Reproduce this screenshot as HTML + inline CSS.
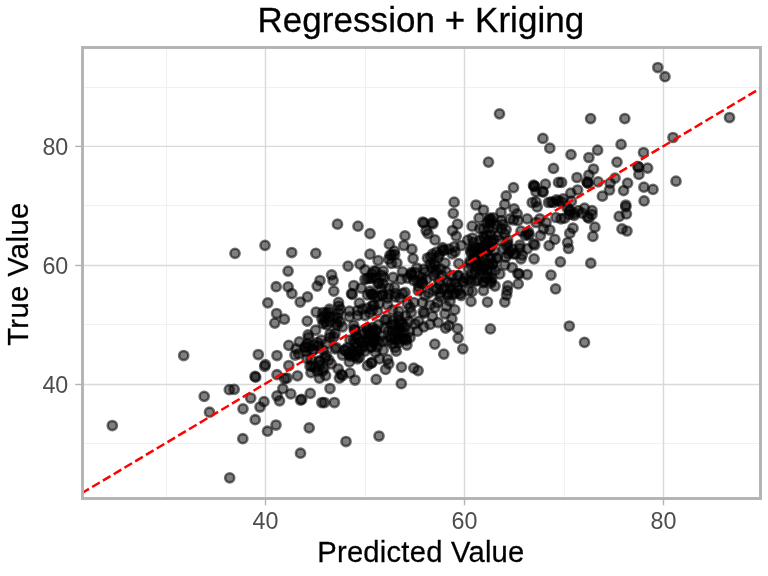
<!DOCTYPE html>
<html><head><meta charset="utf-8"><title>Regression + Kriging</title>
<style>html,body{margin:0;padding:0;background:#fff;}svg{display:block;will-change:transform;opacity:0.9999;}text{font-family:"Liberation Sans",sans-serif;}</style>
</head><body>
<svg width="768" height="576" viewBox="0 0 768 576">
<rect x="0" y="0" width="768" height="576" fill="#ffffff"/>
<defs><clipPath id="c"><rect x="82.5" y="47.5" width="678.0" height="451.0"/></clipPath></defs>
<g stroke="#f0f0f0" stroke-width="1">
<line x1="166.5" y1="47.5" x2="166.5" y2="498.5"/>
<line x1="365.5" y1="47.5" x2="365.5" y2="498.5"/>
<line x1="564.5" y1="47.5" x2="564.5" y2="498.5"/>
<line x1="82.5" y1="443.5" x2="760.5" y2="443.5"/>
<line x1="82.5" y1="324.5" x2="760.5" y2="324.5"/>
<line x1="82.5" y1="205.5" x2="760.5" y2="205.5"/>
<line x1="82.5" y1="87.5" x2="760.5" y2="87.5"/>
</g>
<g stroke="#d9d9d9" stroke-width="1.4">
<line x1="265.5" y1="47.5" x2="265.5" y2="498.5"/>
<line x1="464.5" y1="47.5" x2="464.5" y2="498.5"/>
<line x1="663.5" y1="47.5" x2="663.5" y2="498.5"/>
<line x1="82.5" y1="384.5" x2="760.5" y2="384.5"/>
<line x1="82.5" y1="265.5" x2="760.5" y2="265.5"/>
<line x1="82.5" y1="146.4" x2="760.5" y2="146.4"/>
</g>
<g clip-path="url(#c)" fill="#000" fill-opacity="0.5" stroke="#000" stroke-opacity="0.55" stroke-width="2.55">
<circle cx="112.3" cy="425.5" r="4.6"/>
<circle cx="183.7" cy="355.5" r="4.6"/>
<circle cx="204.2" cy="396.3" r="4.6"/>
<circle cx="209.5" cy="412.2" r="4.6"/>
<circle cx="229.3" cy="389.7" r="4.6"/>
<circle cx="234.2" cy="389.3" r="4.6"/>
<circle cx="243.0" cy="408.8" r="4.6"/>
<circle cx="250.7" cy="398.0" r="4.6"/>
<circle cx="255.0" cy="376.3" r="4.6"/>
<circle cx="255.7" cy="377.2" r="4.6"/>
<circle cx="255.2" cy="419.7" r="4.6"/>
<circle cx="258.3" cy="354.5" r="4.6"/>
<circle cx="260.0" cy="407.0" r="4.6"/>
<circle cx="264.0" cy="401.7" r="4.6"/>
<circle cx="264.7" cy="366.3" r="4.6"/>
<circle cx="265.3" cy="364.7" r="4.6"/>
<circle cx="276.0" cy="425.0" r="4.6"/>
<circle cx="277.0" cy="355.5" r="4.6"/>
<circle cx="277.0" cy="374.7" r="4.6"/>
<circle cx="277.0" cy="395.8" r="4.6"/>
<circle cx="279.5" cy="400.8" r="4.6"/>
<circle cx="282.8" cy="388.7" r="4.6"/>
<circle cx="284.7" cy="378.7" r="4.6"/>
<circle cx="287.0" cy="378.0" r="4.6"/>
<circle cx="288.8" cy="365.5" r="4.6"/>
<circle cx="290.8" cy="393.8" r="4.6"/>
<circle cx="297.5" cy="375.8" r="4.6"/>
<circle cx="300.5" cy="400.0" r="4.6"/>
<circle cx="301.7" cy="399.3" r="4.6"/>
<circle cx="310.3" cy="393.3" r="4.6"/>
<circle cx="309.2" cy="427.8" r="4.6"/>
<circle cx="299.4" cy="341.9" r="4.6"/>
<circle cx="296.2" cy="348.8" r="4.6"/>
<circle cx="295.0" cy="355.0" r="4.6"/>
<circle cx="298.8" cy="353.8" r="4.6"/>
<circle cx="308.8" cy="337.5" r="4.6"/>
<circle cx="330.0" cy="388.5" r="4.6"/>
<circle cx="321.9" cy="402.5" r="4.6"/>
<circle cx="324.4" cy="402.5" r="4.6"/>
<circle cx="334.4" cy="402.5" r="4.6"/>
<circle cx="319.4" cy="378.1" r="4.6"/>
<circle cx="325.6" cy="375.6" r="4.6"/>
<circle cx="338.1" cy="368.8" r="4.6"/>
<circle cx="341.2" cy="374.4" r="4.6"/>
<circle cx="342.5" cy="375.6" r="4.6"/>
<circle cx="339.4" cy="378.1" r="4.6"/>
<circle cx="350.0" cy="373.1" r="4.6"/>
<circle cx="355.0" cy="380.0" r="4.6"/>
<circle cx="376.2" cy="379.4" r="4.6"/>
<circle cx="367.5" cy="365.6" r="4.6"/>
<circle cx="371.2" cy="363.1" r="4.6"/>
<circle cx="349.4" cy="361.9" r="4.6"/>
<circle cx="357.5" cy="358.8" r="4.6"/>
<circle cx="326.2" cy="355.6" r="4.6"/>
<circle cx="311.2" cy="360.0" r="4.6"/>
<circle cx="315.0" cy="367.5" r="4.6"/>
<circle cx="320.0" cy="361.2" r="4.6"/>
<circle cx="323.8" cy="368.8" r="4.6"/>
<circle cx="328.8" cy="360.0" r="4.6"/>
<circle cx="331.2" cy="363.8" r="4.6"/>
<circle cx="317.5" cy="371.2" r="4.6"/>
<circle cx="322.5" cy="371.2" r="4.6"/>
<circle cx="310.0" cy="366.2" r="4.6"/>
<circle cx="313.1" cy="350.0" r="4.6"/>
<circle cx="317.5" cy="342.5" r="4.6"/>
<circle cx="321.2" cy="340.0" r="4.6"/>
<circle cx="313.8" cy="345.0" r="4.6"/>
<circle cx="308.8" cy="347.5" r="4.6"/>
<circle cx="305.0" cy="346.9" r="4.6"/>
<circle cx="345.0" cy="350.0" r="4.6"/>
<circle cx="348.8" cy="353.8" r="4.6"/>
<circle cx="352.5" cy="351.2" r="4.6"/>
<circle cx="350.0" cy="356.2" r="4.6"/>
<circle cx="355.0" cy="355.0" r="4.6"/>
<circle cx="347.5" cy="347.5" r="4.6"/>
<circle cx="342.5" cy="355.0" r="4.6"/>
<circle cx="351.2" cy="353.8" r="4.6"/>
<circle cx="335.0" cy="348.8" r="4.6"/>
<circle cx="336.2" cy="347.5" r="4.6"/>
<circle cx="361.2" cy="348.8" r="4.6"/>
<circle cx="365.0" cy="351.2" r="4.6"/>
<circle cx="367.5" cy="338.8" r="4.6"/>
<circle cx="372.5" cy="341.2" r="4.6"/>
<circle cx="357.5" cy="338.8" r="4.6"/>
<circle cx="362.5" cy="342.5" r="4.6"/>
<circle cx="330.0" cy="337.5" r="4.6"/>
<circle cx="333.8" cy="336.9" r="4.6"/>
<circle cx="355.0" cy="342.5" r="4.6"/>
<circle cx="350.0" cy="340.0" r="4.6"/>
<circle cx="370.0" cy="347.5" r="4.6"/>
<circle cx="373.8" cy="337.5" r="4.6"/>
<circle cx="288.1" cy="271.1" r="4.6"/>
<circle cx="288.1" cy="286.8" r="4.6"/>
<circle cx="291.9" cy="293.6" r="4.6"/>
<circle cx="307.5" cy="296.8" r="4.6"/>
<circle cx="300.2" cy="302.0" r="4.6"/>
<circle cx="320.0" cy="280.5" r="4.6"/>
<circle cx="317.2" cy="286.1" r="4.6"/>
<circle cx="331.6" cy="274.9" r="4.6"/>
<circle cx="333.1" cy="280.5" r="4.6"/>
<circle cx="333.8" cy="291.1" r="4.6"/>
<circle cx="348.1" cy="266.1" r="4.6"/>
<circle cx="316.2" cy="312.0" r="4.6"/>
<circle cx="307.2" cy="321.1" r="4.6"/>
<circle cx="284.4" cy="319.2" r="4.6"/>
<circle cx="315.6" cy="330.2" r="4.6"/>
<circle cx="308.1" cy="334.9" r="4.6"/>
<circle cx="329.4" cy="309.2" r="4.6"/>
<circle cx="326.2" cy="313.0" r="4.6"/>
<circle cx="323.8" cy="316.8" r="4.6"/>
<circle cx="325.0" cy="321.8" r="4.6"/>
<circle cx="326.9" cy="324.9" r="4.6"/>
<circle cx="338.5" cy="302.4" r="4.6"/>
<circle cx="338.8" cy="306.1" r="4.6"/>
<circle cx="338.8" cy="313.0" r="4.6"/>
<circle cx="337.5" cy="318.0" r="4.6"/>
<circle cx="340.0" cy="321.8" r="4.6"/>
<circle cx="342.5" cy="326.8" r="4.6"/>
<circle cx="336.2" cy="323.0" r="4.6"/>
<circle cx="349.4" cy="311.1" r="4.6"/>
<circle cx="349.4" cy="316.8" r="4.6"/>
<circle cx="351.5" cy="293.6" r="4.6"/>
<circle cx="352.2" cy="294.4" r="4.6"/>
<circle cx="353.8" cy="285.5" r="4.6"/>
<circle cx="359.4" cy="303.0" r="4.6"/>
<circle cx="365.0" cy="269.9" r="4.6"/>
<circle cx="360.0" cy="264.2" r="4.6"/>
<circle cx="373.8" cy="271.1" r="4.6"/>
<circle cx="367.5" cy="278.6" r="4.6"/>
<circle cx="365.0" cy="279.2" r="4.6"/>
<circle cx="370.0" cy="278.0" r="4.6"/>
<circle cx="367.5" cy="294.9" r="4.6"/>
<circle cx="371.2" cy="294.2" r="4.6"/>
<circle cx="361.2" cy="288.0" r="4.6"/>
<circle cx="357.5" cy="310.5" r="4.6"/>
<circle cx="362.5" cy="309.2" r="4.6"/>
<circle cx="367.5" cy="308.0" r="4.6"/>
<circle cx="372.5" cy="305.5" r="4.6"/>
<circle cx="357.5" cy="315.5" r="4.6"/>
<circle cx="365.0" cy="315.5" r="4.6"/>
<circle cx="370.0" cy="313.0" r="4.6"/>
<circle cx="353.8" cy="325.5" r="4.6"/>
<circle cx="355.0" cy="330.5" r="4.6"/>
<circle cx="367.5" cy="328.0" r="4.6"/>
<circle cx="372.5" cy="330.5" r="4.6"/>
<circle cx="370.0" cy="333.0" r="4.6"/>
<circle cx="330.0" cy="334.2" r="4.6"/>
<circle cx="335.0" cy="333.6" r="4.6"/>
<circle cx="235.0" cy="253.3" r="4.6"/>
<circle cx="265.0" cy="245.3" r="4.6"/>
<circle cx="291.7" cy="252.5" r="4.6"/>
<circle cx="315.8" cy="253.3" r="4.6"/>
<circle cx="337.5" cy="224.2" r="4.6"/>
<circle cx="276.2" cy="286.7" r="4.6"/>
<circle cx="267.8" cy="302.8" r="4.6"/>
<circle cx="276.6" cy="313.5" r="4.6"/>
<circle cx="274.8" cy="323.1" r="4.6"/>
<circle cx="305.4" cy="347.5" r="4.6"/>
<circle cx="434.8" cy="344.1" r="4.6"/>
<circle cx="443.8" cy="354.1" r="4.6"/>
<circle cx="462.8" cy="348.8" r="4.6"/>
<circle cx="458.1" cy="338.1" r="4.6"/>
<circle cx="457.5" cy="328.5" r="4.6"/>
<circle cx="454.8" cy="309.8" r="4.6"/>
<circle cx="451.9" cy="318.8" r="4.6"/>
<circle cx="445.0" cy="313.8" r="4.6"/>
<circle cx="446.2" cy="306.2" r="4.6"/>
<circle cx="445.6" cy="328.1" r="4.6"/>
<circle cx="448.8" cy="325.6" r="4.6"/>
<circle cx="438.1" cy="322.5" r="4.6"/>
<circle cx="430.0" cy="324.4" r="4.6"/>
<circle cx="423.8" cy="326.9" r="4.6"/>
<circle cx="417.5" cy="331.2" r="4.6"/>
<circle cx="415.0" cy="323.8" r="4.6"/>
<circle cx="418.8" cy="321.2" r="4.6"/>
<circle cx="423.1" cy="311.9" r="4.6"/>
<circle cx="424.4" cy="313.1" r="4.6"/>
<circle cx="432.5" cy="316.2" r="4.6"/>
<circle cx="435.0" cy="307.5" r="4.6"/>
<circle cx="430.0" cy="305.0" r="4.6"/>
<circle cx="410.0" cy="337.5" r="4.6"/>
<circle cx="406.9" cy="345.0" r="4.6"/>
<circle cx="403.8" cy="338.8" r="4.6"/>
<circle cx="396.2" cy="351.2" r="4.6"/>
<circle cx="395.0" cy="347.5" r="4.6"/>
<circle cx="401.5" cy="367.1" r="4.6"/>
<circle cx="413.8" cy="368.1" r="4.6"/>
<circle cx="418.1" cy="370.6" r="4.6"/>
<circle cx="387.5" cy="359.4" r="4.6"/>
<circle cx="388.8" cy="363.8" r="4.6"/>
<circle cx="385.6" cy="369.4" r="4.6"/>
<circle cx="375.6" cy="352.5" r="4.6"/>
<circle cx="379.4" cy="358.8" r="4.6"/>
<circle cx="371.9" cy="362.5" r="4.6"/>
<circle cx="383.1" cy="350.0" r="4.6"/>
<circle cx="385.0" cy="320.0" r="4.6"/>
<circle cx="398.8" cy="320.0" r="4.6"/>
<circle cx="402.5" cy="323.8" r="4.6"/>
<circle cx="395.0" cy="325.0" r="4.6"/>
<circle cx="400.0" cy="328.8" r="4.6"/>
<circle cx="392.5" cy="331.2" r="4.6"/>
<circle cx="397.5" cy="333.8" r="4.6"/>
<circle cx="403.8" cy="332.5" r="4.6"/>
<circle cx="390.0" cy="336.2" r="4.6"/>
<circle cx="395.0" cy="338.8" r="4.6"/>
<circle cx="401.2" cy="338.8" r="4.6"/>
<circle cx="387.5" cy="341.2" r="4.6"/>
<circle cx="406.2" cy="340.0" r="4.6"/>
<circle cx="382.5" cy="341.2" r="4.6"/>
<circle cx="398.8" cy="342.5" r="4.6"/>
<circle cx="392.5" cy="343.8" r="4.6"/>
<circle cx="372.5" cy="327.5" r="4.6"/>
<circle cx="376.2" cy="331.2" r="4.6"/>
<circle cx="371.2" cy="335.0" r="4.6"/>
<circle cx="375.0" cy="337.5" r="4.6"/>
<circle cx="372.5" cy="342.5" r="4.6"/>
<circle cx="377.5" cy="341.2" r="4.6"/>
<circle cx="373.8" cy="305.0" r="4.6"/>
<circle cx="378.8" cy="303.8" r="4.6"/>
<circle cx="372.5" cy="310.0" r="4.6"/>
<circle cx="377.5" cy="311.2" r="4.6"/>
<circle cx="387.5" cy="305.0" r="4.6"/>
<circle cx="392.5" cy="310.0" r="4.6"/>
<circle cx="398.8" cy="311.2" r="4.6"/>
<circle cx="410.0" cy="307.5" r="4.6"/>
<circle cx="411.2" cy="312.5" r="4.6"/>
<circle cx="407.5" cy="303.8" r="4.6"/>
<circle cx="413.8" cy="302.5" r="4.6"/>
<circle cx="422.5" cy="302.5" r="4.6"/>
<circle cx="437.5" cy="302.5" r="4.6"/>
<circle cx="450.0" cy="301.2" r="4.6"/>
<circle cx="405.0" cy="235.8" r="4.6"/>
<circle cx="403.8" cy="245.5" r="4.6"/>
<circle cx="411.9" cy="249.2" r="4.6"/>
<circle cx="413.1" cy="258.6" r="4.6"/>
<circle cx="389.4" cy="244.2" r="4.6"/>
<circle cx="394.4" cy="251.1" r="4.6"/>
<circle cx="391.9" cy="254.9" r="4.6"/>
<circle cx="388.8" cy="259.2" r="4.6"/>
<circle cx="396.9" cy="263.0" r="4.6"/>
<circle cx="378.1" cy="260.5" r="4.6"/>
<circle cx="370.0" cy="233.6" r="4.6"/>
<circle cx="383.1" cy="271.1" r="4.6"/>
<circle cx="383.8" cy="277.4" r="4.6"/>
<circle cx="393.1" cy="277.4" r="4.6"/>
<circle cx="402.5" cy="271.8" r="4.6"/>
<circle cx="401.2" cy="279.2" r="4.6"/>
<circle cx="394.4" cy="287.4" r="4.6"/>
<circle cx="388.8" cy="288.0" r="4.6"/>
<circle cx="405.0" cy="292.4" r="4.6"/>
<circle cx="378.8" cy="283.0" r="4.6"/>
<circle cx="376.2" cy="278.0" r="4.6"/>
<circle cx="372.5" cy="278.0" r="4.6"/>
<circle cx="428.1" cy="233.6" r="4.6"/>
<circle cx="435.0" cy="239.9" r="4.6"/>
<circle cx="426.2" cy="230.5" r="4.6"/>
<circle cx="452.5" cy="230.5" r="4.6"/>
<circle cx="456.2" cy="236.1" r="4.6"/>
<circle cx="461.2" cy="245.5" r="4.6"/>
<circle cx="443.1" cy="249.9" r="4.6"/>
<circle cx="448.8" cy="249.2" r="4.6"/>
<circle cx="455.0" cy="251.8" r="4.6"/>
<circle cx="432.5" cy="254.2" r="4.6"/>
<circle cx="427.5" cy="258.0" r="4.6"/>
<circle cx="438.1" cy="257.4" r="4.6"/>
<circle cx="445.0" cy="263.0" r="4.6"/>
<circle cx="458.8" cy="263.6" r="4.6"/>
<circle cx="416.9" cy="268.0" r="4.6"/>
<circle cx="423.8" cy="269.2" r="4.6"/>
<circle cx="435.0" cy="265.5" r="4.6"/>
<circle cx="436.2" cy="270.5" r="4.6"/>
<circle cx="433.8" cy="275.5" r="4.6"/>
<circle cx="446.2" cy="271.8" r="4.6"/>
<circle cx="411.2" cy="274.2" r="4.6"/>
<circle cx="407.5" cy="278.0" r="4.6"/>
<circle cx="413.8" cy="280.5" r="4.6"/>
<circle cx="420.0" cy="280.5" r="4.6"/>
<circle cx="422.5" cy="284.2" r="4.6"/>
<circle cx="418.8" cy="286.8" r="4.6"/>
<circle cx="440.0" cy="284.2" r="4.6"/>
<circle cx="445.0" cy="288.0" r="4.6"/>
<circle cx="451.2" cy="283.0" r="4.6"/>
<circle cx="457.5" cy="286.8" r="4.6"/>
<circle cx="462.5" cy="281.8" r="4.6"/>
<circle cx="455.0" cy="293.0" r="4.6"/>
<circle cx="447.5" cy="295.5" r="4.6"/>
<circle cx="440.0" cy="293.0" r="4.6"/>
<circle cx="461.2" cy="295.5" r="4.6"/>
<circle cx="465.0" cy="278.0" r="4.6"/>
<circle cx="458.8" cy="275.5" r="4.6"/>
<circle cx="428.8" cy="293.0" r="4.6"/>
<circle cx="433.8" cy="290.5" r="4.6"/>
<circle cx="425.0" cy="295.5" r="4.6"/>
<circle cx="372.5" cy="294.2" r="4.6"/>
<circle cx="377.5" cy="296.8" r="4.6"/>
<circle cx="382.5" cy="295.5" r="4.6"/>
<circle cx="387.5" cy="298.0" r="4.6"/>
<circle cx="395.0" cy="296.8" r="4.6"/>
<circle cx="400.0" cy="298.0" r="4.6"/>
<circle cx="370.0" cy="254.2" r="4.6"/>
<circle cx="358.0" cy="226.2" r="4.6"/>
<circle cx="454.2" cy="202.2" r="4.6"/>
<circle cx="453.3" cy="213.3" r="4.6"/>
<circle cx="422.8" cy="222.0" r="4.6"/>
<circle cx="423.8" cy="223.0" r="4.6"/>
<circle cx="432.0" cy="222.8" r="4.6"/>
<circle cx="433.0" cy="223.8" r="4.6"/>
<circle cx="457.5" cy="224.2" r="4.6"/>
<circle cx="534.1" cy="258.8" r="4.6"/>
<circle cx="560.4" cy="261.9" r="4.6"/>
<circle cx="549.1" cy="245.6" r="4.6"/>
<circle cx="554.8" cy="239.4" r="4.6"/>
<circle cx="540.4" cy="235.6" r="4.6"/>
<circle cx="556.0" cy="217.5" r="4.6"/>
<circle cx="561.0" cy="218.8" r="4.6"/>
<circle cx="537.2" cy="206.9" r="4.6"/>
<circle cx="532.2" cy="202.5" r="4.6"/>
<circle cx="536.0" cy="201.9" r="4.6"/>
<circle cx="527.2" cy="218.8" r="4.6"/>
<circle cx="539.8" cy="218.8" r="4.6"/>
<circle cx="546.0" cy="222.5" r="4.6"/>
<circle cx="543.5" cy="228.8" r="4.6"/>
<circle cx="549.8" cy="230.0" r="4.6"/>
<circle cx="536.0" cy="222.5" r="4.6"/>
<circle cx="483.5" cy="210.0" r="4.6"/>
<circle cx="476.0" cy="205.0" r="4.6"/>
<circle cx="479.1" cy="218.1" r="4.6"/>
<circle cx="472.2" cy="226.2" r="4.6"/>
<circle cx="479.8" cy="228.8" r="4.6"/>
<circle cx="504.8" cy="204.4" r="4.6"/>
<circle cx="501.0" cy="212.5" r="4.6"/>
<circle cx="514.1" cy="208.8" r="4.6"/>
<circle cx="517.2" cy="213.8" r="4.6"/>
<circle cx="513.5" cy="220.0" r="4.6"/>
<circle cx="489.8" cy="218.1" r="4.6"/>
<circle cx="491.0" cy="219.4" r="4.6"/>
<circle cx="533.5" cy="243.8" r="4.6"/>
<circle cx="534.8" cy="245.0" r="4.6"/>
<circle cx="519.8" cy="245.0" r="4.6"/>
<circle cx="527.2" cy="248.8" r="4.6"/>
<circle cx="522.2" cy="255.0" r="4.6"/>
<circle cx="521.0" cy="258.8" r="4.6"/>
<circle cx="497.2" cy="257.5" r="4.6"/>
<circle cx="504.8" cy="265.0" r="4.6"/>
<circle cx="512.2" cy="267.5" r="4.6"/>
<circle cx="527.2" cy="233.8" r="4.6"/>
<circle cx="521.0" cy="231.2" r="4.6"/>
<circle cx="509.8" cy="251.2" r="4.6"/>
<circle cx="513.5" cy="253.8" r="4.6"/>
<circle cx="503.5" cy="248.8" r="4.6"/>
<circle cx="548.5" cy="202.5" r="4.6"/>
<circle cx="553.5" cy="202.5" r="4.6"/>
<circle cx="558.5" cy="201.2" r="4.6"/>
<circle cx="488.5" cy="220.1" r="4.6"/>
<circle cx="493.4" cy="217.9" r="4.6"/>
<circle cx="501.2" cy="220.6" r="4.6"/>
<circle cx="487.0" cy="223.4" r="4.6"/>
<circle cx="490.5" cy="222.8" r="4.6"/>
<circle cx="497.1" cy="225.3" r="4.6"/>
<circle cx="502.6" cy="224.4" r="4.6"/>
<circle cx="483.3" cy="228.9" r="4.6"/>
<circle cx="488.9" cy="227.8" r="4.6"/>
<circle cx="493.2" cy="228.3" r="4.6"/>
<circle cx="501.4" cy="229.1" r="4.6"/>
<circle cx="506.1" cy="229.6" r="4.6"/>
<circle cx="486.8" cy="235.3" r="4.6"/>
<circle cx="490.8" cy="234.8" r="4.6"/>
<circle cx="497.8" cy="235.9" r="4.6"/>
<circle cx="504.6" cy="233.8" r="4.6"/>
<circle cx="484.5" cy="238.4" r="4.6"/>
<circle cx="488.5" cy="240.7" r="4.6"/>
<circle cx="493.5" cy="239.7" r="4.6"/>
<circle cx="499.1" cy="240.3" r="4.6"/>
<circle cx="507.7" cy="240.0" r="4.6"/>
<circle cx="472.5" cy="238.0" r="4.6"/>
<circle cx="483.6" cy="236.9" r="4.6"/>
<circle cx="467.8" cy="240.1" r="4.6"/>
<circle cx="473.4" cy="242.4" r="4.6"/>
<circle cx="479.7" cy="240.5" r="4.6"/>
<circle cx="486.6" cy="242.8" r="4.6"/>
<circle cx="472.2" cy="248.0" r="4.6"/>
<circle cx="479.1" cy="248.0" r="4.6"/>
<circle cx="483.2" cy="246.3" r="4.6"/>
<circle cx="489.5" cy="248.0" r="4.6"/>
<circle cx="470.6" cy="250.6" r="4.6"/>
<circle cx="473.8" cy="250.9" r="4.6"/>
<circle cx="480.0" cy="251.8" r="4.6"/>
<circle cx="487.3" cy="251.0" r="4.6"/>
<circle cx="478.7" cy="255.6" r="4.6"/>
<circle cx="470.1" cy="260.9" r="4.6"/>
<circle cx="474.0" cy="259.5" r="4.6"/>
<circle cx="478.7" cy="260.3" r="4.6"/>
<circle cx="484.1" cy="258.4" r="4.6"/>
<circle cx="490.2" cy="258.7" r="4.6"/>
<circle cx="469.9" cy="263.5" r="4.6"/>
<circle cx="475.9" cy="264.2" r="4.6"/>
<circle cx="481.2" cy="266.0" r="4.6"/>
<circle cx="488.8" cy="263.5" r="4.6"/>
<circle cx="493.2" cy="264.2" r="4.6"/>
<circle cx="468.3" cy="268.3" r="4.6"/>
<circle cx="475.6" cy="271.2" r="4.6"/>
<circle cx="479.9" cy="269.5" r="4.6"/>
<circle cx="484.2" cy="268.2" r="4.6"/>
<circle cx="490.7" cy="268.8" r="4.6"/>
<circle cx="507.8" cy="244.1" r="4.6"/>
<circle cx="506.7" cy="246.0" r="4.6"/>
<circle cx="512.6" cy="249.4" r="4.6"/>
<circle cx="519.8" cy="248.4" r="4.6"/>
<circle cx="508.3" cy="253.9" r="4.6"/>
<circle cx="515.6" cy="253.9" r="4.6"/>
<circle cx="505.9" cy="257.1" r="4.6"/>
<circle cx="510.0" cy="218.9" r="4.6"/>
<circle cx="518.0" cy="220.6" r="4.6"/>
<circle cx="528.6" cy="232.0" r="4.6"/>
<circle cx="525.2" cy="235.5" r="4.6"/>
<circle cx="529.1" cy="234.9" r="4.6"/>
<circle cx="490.4" cy="328.9" r="4.6"/>
<circle cx="471.0" cy="301.4" r="4.6"/>
<circle cx="487.5" cy="302.0" r="4.6"/>
<circle cx="504.8" cy="302.0" r="4.6"/>
<circle cx="483.5" cy="290.5" r="4.6"/>
<circle cx="495.0" cy="286.0" r="4.6"/>
<circle cx="472.2" cy="291.4" r="4.6"/>
<circle cx="468.5" cy="290.8" r="4.6"/>
<circle cx="518.2" cy="283.9" r="4.6"/>
<circle cx="507.9" cy="285.8" r="4.6"/>
<circle cx="507.2" cy="290.8" r="4.6"/>
<circle cx="506.6" cy="295.1" r="4.6"/>
<circle cx="527.2" cy="274.5" r="4.6"/>
<circle cx="517.9" cy="273.5" r="4.6"/>
<circle cx="519.1" cy="274.2" r="4.6"/>
<circle cx="551.0" cy="275.1" r="4.6"/>
<circle cx="555.6" cy="288.9" r="4.6"/>
<circle cx="499.8" cy="273.9" r="4.6"/>
<circle cx="471.4" cy="273.9" r="4.6"/>
<circle cx="483.2" cy="282.6" r="4.6"/>
<circle cx="489.1" cy="277.4" r="4.6"/>
<circle cx="484.0" cy="281.4" r="4.6"/>
<circle cx="468.3" cy="279.6" r="4.6"/>
<circle cx="491.0" cy="281.2" r="4.6"/>
<circle cx="486.6" cy="277.4" r="4.6"/>
<circle cx="470.9" cy="281.2" r="4.6"/>
<circle cx="475.1" cy="281.4" r="4.6"/>
<circle cx="542.9" cy="138.4" r="4.6"/>
<circle cx="549.8" cy="148.2" r="4.6"/>
<circle cx="488.5" cy="162.1" r="4.6"/>
<circle cx="553.5" cy="168.4" r="4.6"/>
<circle cx="513.5" cy="187.6" r="4.6"/>
<circle cx="506.2" cy="195.9" r="4.6"/>
<circle cx="533.5" cy="185.2" r="4.6"/>
<circle cx="534.5" cy="186.0" r="4.6"/>
<circle cx="534.2" cy="186.5" r="4.6"/>
<circle cx="545.4" cy="184.2" r="4.6"/>
<circle cx="542.5" cy="191.4" r="4.6"/>
<circle cx="543.2" cy="192.1" r="4.6"/>
<circle cx="536.0" cy="191.8" r="4.6"/>
<circle cx="558.5" cy="182.4" r="4.6"/>
<circle cx="561.6" cy="182.4" r="4.6"/>
<circle cx="571.0" cy="154.6" r="4.6"/>
<circle cx="588.9" cy="157.5" r="4.6"/>
<circle cx="597.6" cy="150.2" r="4.6"/>
<circle cx="621.1" cy="144.4" r="4.6"/>
<circle cx="643.5" cy="152.5" r="4.6"/>
<circle cx="617.0" cy="162.1" r="4.6"/>
<circle cx="593.5" cy="169.0" r="4.6"/>
<circle cx="588.9" cy="175.0" r="4.6"/>
<circle cx="577.0" cy="177.5" r="4.6"/>
<circle cx="587.0" cy="181.9" r="4.6"/>
<circle cx="588.2" cy="183.1" r="4.6"/>
<circle cx="587.6" cy="182.8" r="4.6"/>
<circle cx="598.2" cy="181.9" r="4.6"/>
<circle cx="615.1" cy="178.1" r="4.6"/>
<circle cx="610.1" cy="183.1" r="4.6"/>
<circle cx="609.5" cy="190.0" r="4.6"/>
<circle cx="602.4" cy="196.2" r="4.6"/>
<circle cx="627.6" cy="183.1" r="4.6"/>
<circle cx="623.6" cy="190.6" r="4.6"/>
<circle cx="637.9" cy="166.5" r="4.6"/>
<circle cx="638.6" cy="167.2" r="4.6"/>
<circle cx="647.6" cy="168.1" r="4.6"/>
<circle cx="638.9" cy="174.4" r="4.6"/>
<circle cx="643.9" cy="187.2" r="4.6"/>
<circle cx="653.0" cy="189.4" r="4.6"/>
<circle cx="644.1" cy="200.9" r="4.6"/>
<circle cx="625.8" cy="205.0" r="4.6"/>
<circle cx="625.8" cy="206.9" r="4.6"/>
<circle cx="577.6" cy="190.0" r="4.6"/>
<circle cx="570.8" cy="193.1" r="4.6"/>
<circle cx="571.4" cy="201.2" r="4.6"/>
<circle cx="563.2" cy="198.8" r="4.6"/>
<circle cx="567.0" cy="207.5" r="4.6"/>
<circle cx="569.5" cy="210.0" r="4.6"/>
<circle cx="584.5" cy="208.1" r="4.6"/>
<circle cx="592.0" cy="210.6" r="4.6"/>
<circle cx="578.2" cy="210.6" r="4.6"/>
<circle cx="590.8" cy="263.2" r="4.6"/>
<circle cx="592.9" cy="236.4" r="4.6"/>
<circle cx="594.9" cy="227.2" r="4.6"/>
<circle cx="573.0" cy="228.2" r="4.6"/>
<circle cx="569.8" cy="233.2" r="4.6"/>
<circle cx="567.6" cy="242.6" r="4.6"/>
<circle cx="568.5" cy="248.5" r="4.6"/>
<circle cx="622.0" cy="228.9" r="4.6"/>
<circle cx="627.0" cy="231.0" r="4.6"/>
<circle cx="619.2" cy="216.4" r="4.6"/>
<circle cx="626.4" cy="213.9" r="4.6"/>
<circle cx="587.6" cy="217.0" r="4.6"/>
<circle cx="588.9" cy="218.2" r="4.6"/>
<circle cx="592.0" cy="214.5" r="4.6"/>
<circle cx="569.5" cy="214.5" r="4.6"/>
<circle cx="574.5" cy="213.2" r="4.6"/>
<circle cx="564.5" cy="218.2" r="4.6"/>
<circle cx="582.0" cy="213.2" r="4.6"/>
<circle cx="569.3" cy="326.0" r="4.6"/>
<circle cx="584.5" cy="342.3" r="4.6"/>
<circle cx="590.6" cy="118.6" r="4.6"/>
<circle cx="624.8" cy="118.6" r="4.6"/>
<circle cx="657.8" cy="67.5" r="4.6"/>
<circle cx="665.0" cy="76.7" r="4.6"/>
<circle cx="729.5" cy="117.5" r="4.6"/>
<circle cx="673.0" cy="137.5" r="4.6"/>
<circle cx="499.5" cy="113.8" r="4.6"/>
<circle cx="346.0" cy="441.5" r="4.6"/>
<circle cx="379.0" cy="436.0" r="4.6"/>
<circle cx="401.3" cy="383.7" r="4.6"/>
<circle cx="229.7" cy="477.8" r="4.6"/>
<circle cx="242.8" cy="438.7" r="4.6"/>
<circle cx="267.5" cy="431.2" r="4.6"/>
<circle cx="300.5" cy="453.2" r="4.6"/>
<circle cx="411.3" cy="272.6" r="4.6"/>
<circle cx="415.0" cy="272.7" r="4.6"/>
<circle cx="425.2" cy="272.0" r="4.6"/>
<circle cx="411.5" cy="275.3" r="4.6"/>
<circle cx="421.8" cy="277.9" r="4.6"/>
<circle cx="426.8" cy="279.0" r="4.6"/>
<circle cx="417.8" cy="282.0" r="4.6"/>
<circle cx="422.2" cy="282.3" r="4.6"/>
<circle cx="418.3" cy="290.7" r="4.6"/>
<circle cx="442.1" cy="275.5" r="4.6"/>
<circle cx="452.0" cy="275.9" r="4.6"/>
<circle cx="457.6" cy="275.7" r="4.6"/>
<circle cx="438.8" cy="281.1" r="4.6"/>
<circle cx="448.5" cy="282.1" r="4.6"/>
<circle cx="455.0" cy="283.2" r="4.6"/>
<circle cx="463.9" cy="281.8" r="4.6"/>
<circle cx="436.7" cy="288.5" r="4.6"/>
<circle cx="443.7" cy="289.3" r="4.6"/>
<circle cx="450.8" cy="288.6" r="4.6"/>
<circle cx="458.3" cy="290.4" r="4.6"/>
<circle cx="440.2" cy="296.9" r="4.6"/>
<circle cx="448.8" cy="293.3" r="4.6"/>
<circle cx="453.0" cy="294.6" r="4.6"/>
<circle cx="460.2" cy="293.7" r="4.6"/>
<circle cx="436.5" cy="252.1" r="4.6"/>
<circle cx="430.7" cy="257.1" r="4.6"/>
<circle cx="439.3" cy="254.8" r="4.6"/>
<circle cx="430.3" cy="263.8" r="4.6"/>
<circle cx="434.2" cy="263.7" r="4.6"/>
<circle cx="431.6" cy="267.6" r="4.6"/>
<circle cx="440.6" cy="269.0" r="4.6"/>
<circle cx="435.4" cy="272.7" r="4.6"/>
<circle cx="390.0" cy="255.1" r="4.6"/>
<circle cx="394.7" cy="254.6" r="4.6"/>
<circle cx="391.4" cy="263.4" r="4.6"/>
<circle cx="442.5" cy="247.6" r="4.6"/>
<circle cx="454.2" cy="246.8" r="4.6"/>
<circle cx="444.0" cy="250.3" r="4.6"/>
<circle cx="452.2" cy="253.8" r="4.6"/>
<circle cx="375.9" cy="271.1" r="4.6"/>
<circle cx="371.9" cy="273.8" r="4.6"/>
<circle cx="382.1" cy="275.4" r="4.6"/>
<circle cx="378.1" cy="283.6" r="4.6"/>
<circle cx="383.1" cy="283.8" r="4.6"/>
<circle cx="381.0" cy="288.0" r="4.6"/>
<circle cx="370.2" cy="291.2" r="4.6"/>
<circle cx="372.9" cy="294.9" r="4.6"/>
<circle cx="382.4" cy="294.8" r="4.6"/>
<circle cx="388.8" cy="294.3" r="4.6"/>
<circle cx="395.6" cy="293.6" r="4.6"/>
<circle cx="402.6" cy="293.6" r="4.6"/>
<circle cx="378.4" cy="324.7" r="4.6"/>
<circle cx="354.2" cy="329.2" r="4.6"/>
<circle cx="362.2" cy="331.2" r="4.6"/>
<circle cx="367.6" cy="330.6" r="4.6"/>
<circle cx="375.9" cy="329.8" r="4.6"/>
<circle cx="356.3" cy="336.1" r="4.6"/>
<circle cx="363.9" cy="333.7" r="4.6"/>
<circle cx="370.0" cy="336.5" r="4.6"/>
<circle cx="380.0" cy="335.8" r="4.6"/>
<circle cx="353.8" cy="339.9" r="4.6"/>
<circle cx="360.6" cy="340.8" r="4.6"/>
<circle cx="366.9" cy="340.8" r="4.6"/>
<circle cx="374.1" cy="342.9" r="4.6"/>
<circle cx="357.3" cy="346.3" r="4.6"/>
<circle cx="362.8" cy="346.4" r="4.6"/>
<circle cx="371.5" cy="346.9" r="4.6"/>
<circle cx="377.2" cy="346.9" r="4.6"/>
<circle cx="344.6" cy="350.2" r="4.6"/>
<circle cx="352.1" cy="350.7" r="4.6"/>
<circle cx="358.7" cy="351.6" r="4.6"/>
<circle cx="349.6" cy="354.5" r="4.6"/>
<circle cx="355.3" cy="356.5" r="4.6"/>
<circle cx="359.4" cy="357.3" r="4.6"/>
<circle cx="398.5" cy="316.6" r="4.6"/>
<circle cx="405.7" cy="315.8" r="4.6"/>
<circle cx="386.9" cy="319.0" r="4.6"/>
<circle cx="393.3" cy="320.3" r="4.6"/>
<circle cx="400.0" cy="322.3" r="4.6"/>
<circle cx="408.6" cy="321.4" r="4.6"/>
<circle cx="385.1" cy="327.5" r="4.6"/>
<circle cx="391.3" cy="324.8" r="4.6"/>
<circle cx="399.4" cy="327.8" r="4.6"/>
<circle cx="405.0" cy="326.9" r="4.6"/>
<circle cx="388.6" cy="330.9" r="4.6"/>
<circle cx="395.7" cy="331.7" r="4.6"/>
<circle cx="399.8" cy="331.7" r="4.6"/>
<circle cx="409.3" cy="331.5" r="4.6"/>
<circle cx="391.4" cy="338.1" r="4.6"/>
<circle cx="398.1" cy="339.3" r="4.6"/>
<circle cx="406.1" cy="339.0" r="4.6"/>
<circle cx="307.3" cy="343.7" r="4.6"/>
<circle cx="318.2" cy="345.8" r="4.6"/>
<circle cx="326.3" cy="343.8" r="4.6"/>
<circle cx="305.5" cy="351.6" r="4.6"/>
<circle cx="313.3" cy="349.9" r="4.6"/>
<circle cx="323.3" cy="350.3" r="4.6"/>
<circle cx="307.1" cy="358.5" r="4.6"/>
<circle cx="319.0" cy="360.9" r="4.6"/>
<circle cx="325.2" cy="357.6" r="4.6"/>
<circle cx="312.0" cy="366.0" r="4.6"/>
<circle cx="319.7" cy="365.7" r="4.6"/>
<circle cx="311.0" cy="372.6" r="4.6"/>
<circle cx="322.9" cy="312.6" r="4.6"/>
<circle cx="329.0" cy="312.2" r="4.6"/>
<circle cx="340.3" cy="309.4" r="4.6"/>
<circle cx="321.9" cy="318.5" r="4.6"/>
<circle cx="329.3" cy="316.6" r="4.6"/>
<circle cx="334.4" cy="317.1" r="4.6"/>
<circle cx="323.1" cy="323.7" r="4.6"/>
<circle cx="330.2" cy="322.0" r="4.6"/>
<circle cx="337.0" cy="325.6" r="4.6"/>
<circle cx="676.0" cy="181.2" r="4.6"/>
<circle cx="551.2" cy="201.9" r="4.6"/>
<circle cx="556.5" cy="199.8" r="4.6"/>
<circle cx="561.7" cy="201.9" r="4.6"/>
<circle cx="570.0" cy="211.2" r="4.6"/>
<circle cx="574.2" cy="215.4" r="4.6"/>
<circle cx="288.8" cy="345.3" r="4.6"/>
<circle cx="491.6" cy="242.0" r="4.6"/>
<circle cx="475.4" cy="247.8" r="4.6"/>
<circle cx="481.7" cy="248.2" r="4.6"/>
<circle cx="490.5" cy="246.6" r="4.6"/>
<circle cx="471.0" cy="252.6" r="4.6"/>
<circle cx="478.5" cy="253.5" r="4.6"/>
<circle cx="483.9" cy="250.8" r="4.6"/>
<circle cx="494.1" cy="251.2" r="4.6"/>
<circle cx="473.6" cy="258.5" r="4.6"/>
<circle cx="480.2" cy="260.3" r="4.6"/>
<circle cx="490.6" cy="258.2" r="4.6"/>
<circle cx="496.6" cy="258.3" r="4.6"/>
<circle cx="475.9" cy="264.1" r="4.6"/>
<circle cx="483.5" cy="267.4" r="4.6"/>
<circle cx="492.2" cy="264.4" r="4.6"/>
<circle cx="475.5" cy="274.2" r="4.6"/>
<circle cx="480.9" cy="270.4" r="4.6"/>
<circle cx="487.1" cy="270.2" r="4.6"/>
<circle cx="495.2" cy="270.2" r="4.6"/>
<circle cx="477.7" cy="280.2" r="4.6"/>
<circle cx="485.9" cy="278.1" r="4.6"/>
<circle cx="491.8" cy="278.6" r="4.6"/>
<circle cx="490.6" cy="283.2" r="4.6"/>
</g>
<line clip-path="url(#c)" x1="82.50" y1="492.80" x2="760.50" y2="88.20" stroke="#ff0000" stroke-width="2.5" stroke-dasharray="8.85 3.68" stroke-dashoffset="1.3"/>
<rect x="82.5" y="47.5" width="678.0" height="451.0" fill="none" stroke="#b3b3b3" stroke-width="2.9"/>
<g stroke="#b3b3b3" stroke-width="1.4">
<line x1="265.5" y1="499.9" x2="265.5" y2="505.3"/>
<line x1="464.5" y1="499.9" x2="464.5" y2="505.3"/>
<line x1="663.5" y1="499.9" x2="663.5" y2="505.3"/>
<line x1="75.2" y1="384.5" x2="81.1" y2="384.5"/>
<line x1="75.2" y1="265.5" x2="81.1" y2="265.5"/>
<line x1="75.2" y1="146.4" x2="81.1" y2="146.4"/>
</g>
<g fill="#4d4d4d" font-size="23.3px">
<text x="265.5" y="528.6" text-anchor="middle">40</text>
<text x="464.5" y="528.6" text-anchor="middle">60</text>
<text x="663.5" y="528.6" text-anchor="middle">80</text>
<text x="68.3" y="393.0" text-anchor="end">40</text>
<text x="68.3" y="274.0" text-anchor="end">60</text>
<text x="68.3" y="154.9" text-anchor="end">80</text>
</g>
<text transform="translate(420.9,32.4) scale(1,1.025)" text-anchor="middle" font-size="35px" letter-spacing="0.05" fill="#000" stroke="#000" stroke-width="0.3">Regression + Kriging</text>
<text transform="translate(420.9,562.3) scale(1,1.04)" text-anchor="middle" font-size="29.2px" letter-spacing="0.23" fill="#000" stroke="#000" stroke-width="0.25">Predicted Value</text>
<text transform="translate(28.3,274.1) rotate(-90) scale(1,1.04)" text-anchor="middle" font-size="29.2px" letter-spacing="0.4" fill="#000" stroke="#000" stroke-width="0.25">True Value</text>
</svg></body></html>
